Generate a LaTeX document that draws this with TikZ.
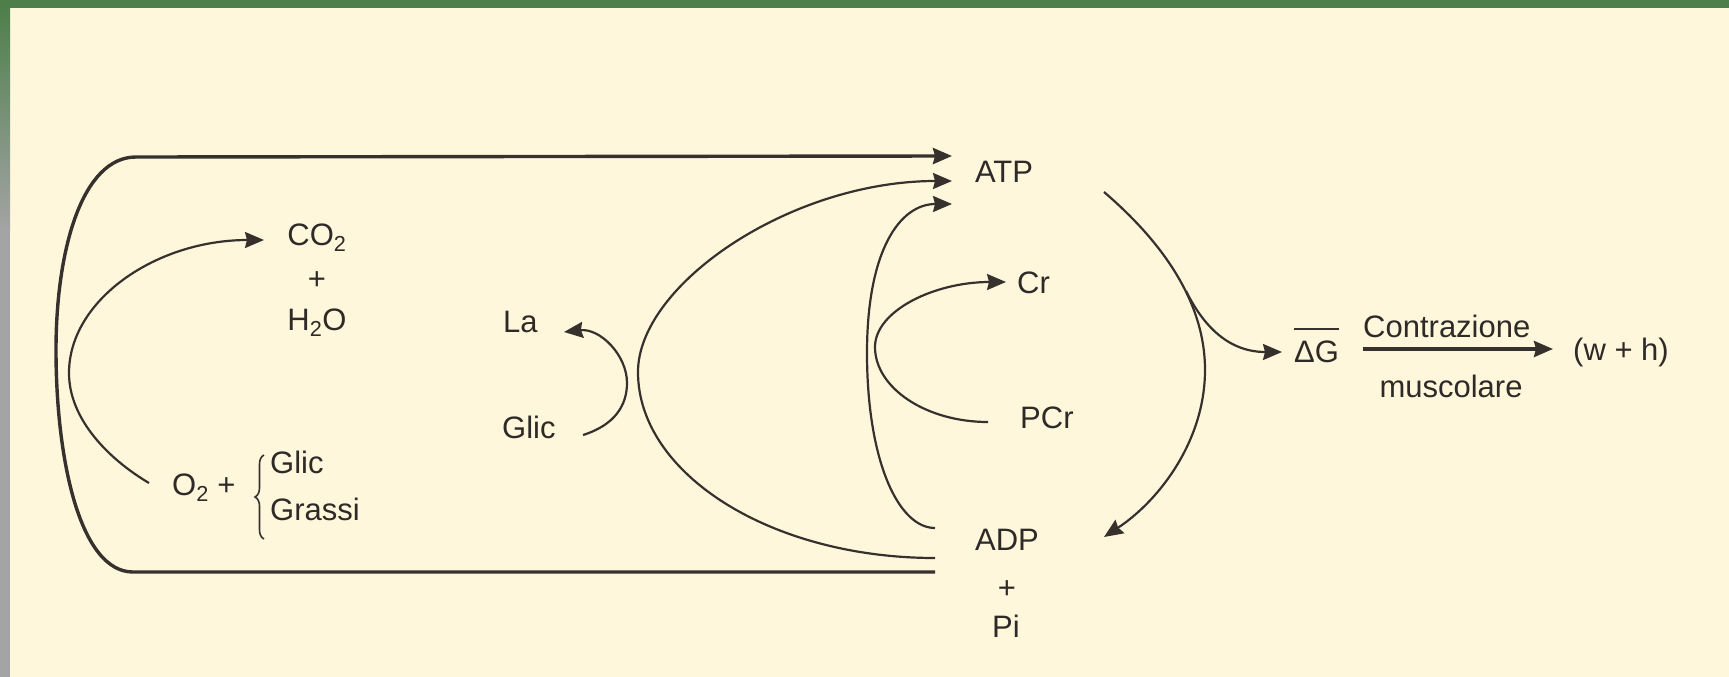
\documentclass[tikz,border=0pt]{standalone}
\usepackage{fontspec}
\setmainfont{Liberation Sans}
\usetikzlibrary{arrows.meta,decorations.pathreplacing}
\definecolor{bg}{HTML}{FFF7DC}
\definecolor{barg}{HTML}{4E7F4B}
\definecolor{stripg}{HTML}{A4A4A4}
\definecolor{ink}{HTML}{2E2A27}
\definecolor{lineink}{HTML}{36312D}
\begin{document}
\begin{tikzpicture}[x=1pt,y=-1pt,
  lbl/.style={inner sep=0pt, text=ink, font=\fontsize{31}{36}\selectfont},
  conn/.style={draw=lineink, line width=2.2pt, -{Stealth[length=19pt,width=16pt,inset=2pt]}},
  heavy/.style={line width=3.4pt},
  bracestyle/.style={draw=lineink, line width=1.6pt, decorate, decoration={brace, amplitude=9pt}}
]
% background and frame
\fill[bg] (0,0) rectangle (1729,677);
\useasboundingbox (0,0) rectangle (1729,677);
\fill[barg] (0,0) rectangle (1729,8);
\shade[top color=barg, bottom color=stripg] (0,8) rectangle (10,230);
\fill[stripg] (0,230) rectangle (10,677);

% labels
\node[lbl, anchor=base] (ATP) at (1004,182) {ATP};
\node[lbl, anchor=base west] (Cr) at (1017,293) {Cr};
\node[lbl, anchor=base west] (PCr) at (1020,428) {PCr};
\node[lbl, anchor=base] (ADP) at (1007,550) {ADP};
\node[lbl, anchor=base] (plusA) at (1007,598) {+};
\node[lbl, anchor=base] (Pi) at (1006,637) {Pi};
\node[lbl, anchor=base] (CO2) at (317,245) {CO\textsubscript{2}};
\node[lbl, anchor=base] (plusC) at (317,289) {+};
\node[lbl, anchor=base] (H2O) at (317,330) {H\textsubscript{2}O};
\node[lbl, anchor=base west] (La) at (503,332) {La};
\node[lbl, anchor=base west] (GlicM) at (502,438) {Glic};
\node[lbl, anchor=base west] (O2) at (172,495) {O\textsubscript{2} +};
\node[lbl, anchor=base west] (GlicO) at (270,473) {Glic};
\node[lbl, anchor=base west] (Grassi) at (270,520) {Grassi};
\node[lbl, anchor=base west] (dG) at (1294,362) {ΔG};
\node[lbl, anchor=base west] (Contr) at (1363,337) {Contrazione};
\node[lbl, anchor=base] (musc) at (1451,397) {muscolare};
\node[lbl, anchor=base west] (wh) at (1573,360) {(w + h)};

% connector end points
\coordinate (atpA) at (952,156);
\coordinate (atpB) at (952,181);
\coordinate (atpC) at (952,204);
\coordinate (adpA) at (935,572);
\coordinate (adpB) at (935,558);
\coordinate (adpC) at (935,528);
\coordinate (pcrE) at (988,422);
\coordinate (crT) at (1006,282);
\coordinate (glicE) at (583,435);
\coordinate (laT) at (564,332);
\coordinate (o2E) at (149,483);
\coordinate (co2T) at (264,240);
\coordinate (atpR) at (1104,192);
\coordinate (adpR) at (1104,537);
\coordinate (br) at (1186,291);
\coordinate (dgT) at (1282,352);
\coordinate (cA) at (1363,349);
\coordinate (cB) at (1553,349);
\coordinate (brB) at (264,539);
\coordinate (brT) at (264,455);

% outer loop ADP -> ATP
\draw[conn, heavy] (adpA) -- (133,572) .. controls (80,572) and (56,460) .. (56,350)
  .. controls (56,250) and (82,157) .. (136,157) -- (atpA);
% glycolysis loop ADP -> ATP
\draw[conn] (adpB) .. controls (771,558) and (638,474) .. (638,372)
  .. controls (638,285) and (790,181) .. (atpB);
% PCr loop ADP -> ATP
\draw[conn] (adpC) .. controls (898,528) and (867,460) .. (867,353)
  .. controls (867,250) and (900,204) .. (atpC);
% PCr -> Cr
\draw[conn] (pcrE) .. controls (926,422) and (875,388) .. (875,347)
  .. controls (875,311) and (934,282) .. (crT);
% Glic -> La
\draw[conn] (glicE) .. controls (615,425) and (627,405) .. (627,383)
  .. controls (627,355) and (600,328) .. (laT);
% O2 -> CO2
\draw[conn] (o2E) .. controls (110,460) and (69,420) .. (69,373)
  .. controls (69,300) and (156,240) .. (co2T);
% ATP -> ADP
\draw[conn] (atpR) .. controls (1160,240) and (1205,300) .. (1205,370)
  .. controls (1205,440) and (1160,500) .. (adpR);
% branch -> Delta G
\draw[conn] (br) .. controls (1201,321) and (1225,352) .. (dgT);
% contraction arrow
\draw[conn, heavy] (cA) -- (cB);
% overline on Delta G
\draw[lineink, line width=1.8pt] ([yshift=11pt]dG.north west) -- ([yshift=11pt]dG.north east);
% brace
\draw[bracestyle] (brB) -- (brT);
\end{tikzpicture}
\end{document}
